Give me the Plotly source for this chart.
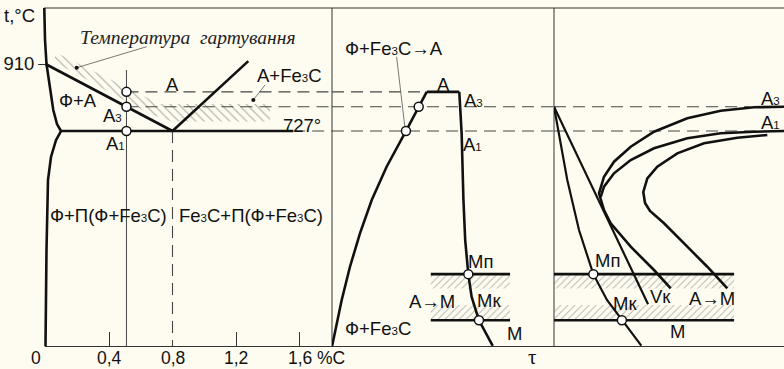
import plotly.graph_objects as go

# ================= DATA =================
# --- left panel: part of the Fe–Fe3C diagram (x: %C, y: t, °C)
gp_c = [-0.0076, -0.003, 0.0063, 0.0283, 0.049, 0.0724, 0.0976]
gp_t = [1063, 975.6, 910, 839, 784.4, 746, 727]
pq_c = [0.0976, 0.0661, 0.0346, 0.0157, 0.0063, 0.0]
pq_t = [727, 702, 656, 593, 402, 138.4]
gs_c = [0.0, 0.8]
gs_t = [910, 727]
se_c = [0.8, 1.2775]
se_t = [727, 918]
psk_c = [0.0976, 1.56]
psk_t = [727, 727]
steel_c = 0.51            # steel being quenched, %C
steel_top_t = 893.6
t_quench = 834            # quenching temperature
t_a3 = 793.3
t_a1 = 727
t_bottom = 138.4
eut_c = 0.8
hatch_c = [0.0598, 0.7213, 1.4142, 1.4142, 0.797, 0.658, 0.0598]
hatch_t = [942.8, 800.7, 800.7, 753, 753, 773.4, 914.1]
lead1_c = [0.6375, 0.1965]
lead1_t = [957.3, 899.9]
lead2_c = [1.3827, 1.309]
lead2_t = [852.6, 811.7]
c_ticks = [0.4, 1.2, 1.6]
c_labels_x = [0, 0.4, 0.8, 1.2, 1.6]
c_labels = ["0", "0,4", "0,8", "1,2", "1,6"]

# --- middle panel: heating/cooling schedule (x: τ, y: t, °C)
heat_tau = [0, 4.37, 8.1, 12.6, 17.9, 24.6, 33.3, 39.05, 42.66]
heat_t = [138.4, 265.4, 356.3, 447.6, 538.5, 629.5, 727, 793.3, 834]
hold_tau = [42.66, 57.34]
cool_tau = [57.34, 58.4, 59.2, 60.0, 61.4, 62.9, 66.2, 72.4]
cool_t = [834, 720, 540, 429, 336, 274, 210, 140]
t_mn = 336                # Mп
t_mk = 210                # Mк
band_top = [297, 336]
band_bot = [210, 252]
mid_m_tau = [44.5, 80.2]
mid_circ_tau = [33.3, 39.05, 61.4, 66.2]
mid_circ_t = [727, 793.3, 336, 210]
lead3_tau = [29.1, 32.9]
lead3_t = [930, 734]

# --- right panel: TTT (C-curves) with cooling curves (x: τ, y: t, °C)
water_tau = [0, 5.78, 10.87, 17.09, 23.04, 29.7, 37.96]
water_t = [793.3, 593.2, 456.6, 336, 265.4, 208.8, 140.6]
vk_tau = [0, 40.9]
vk_t = [793.3, 254]
c1_tau = [100, 86.96, 72.48, 57.96, 43.48, 33.35, 26.09, 21.74, 19.57, 21.74, 24.65, 33.35, 43.48, 50.74]
c1_t = [793.4, 791.7, 782.4, 761.7, 725.1, 684.1, 643.1, 602.2, 556.8, 511.2, 474.9, 411, 347.3, 297.3]
c1b_tau = [100, 86.96, 72.48, 57.96, 43.48, 33.35, 26.09, 21.74, 20.3]
c1b_t = [727, 725, 720.7, 707.1, 679.7, 647.8, 611.5, 574.9, 547.5]
c2_tau = [92.74, 79.7, 65.22, 53.61, 44.91, 40.57, 38.83, 39.57, 41.74, 44.78, 47.83, 57.96, 66.65, 75.35]
c2_t = [716.1, 708.7, 693.4, 666.1, 629.5, 597.8, 560.4, 530.3, 508.5, 490.7, 474.9, 411, 356.3, 297.3]
right_m_tau = [0, 78.3]
right_circ_tau = [17.1, 29.5]
right_circ_t = [336, 210]
right_a3_end = 85
right_a1_end = 88

# ================= FIGURE =================
BLACK = "#111111"
GREY = "#444444"
BG = "#FEFCF0"
THICK = 2.6
DASH = "12px,7px"
FS = 18.5

fig = go.Figure()


def line(x, y, xa, width=THICK, color=BLACK, dash=None):
    fig.add_trace(go.Scatter(x=x, y=y, xaxis=xa, yaxis="y", mode="lines",
                             line=dict(color=color, width=width, dash=dash),
                             hoverinfo="skip", showlegend=False))


def hatch(x, y, xa, shape, color="#555555", size=6):
    fig.add_trace(go.Scatter(x=x, y=y, xaxis=xa, yaxis="y", mode="lines",
                             line=dict(width=0), fill="toself",
                             fillcolor="rgba(0,0,0,0)",
                             fillpattern=dict(shape=shape, fgcolor=color,
                                              bgcolor="rgba(0,0,0,0)",
                                              size=size, solidity=0.18),
                             hoverinfo="skip", showlegend=False))


def circles(x, y, xa):
    fig.add_trace(go.Scatter(x=x, y=y, xaxis=xa, yaxis="y", mode="markers",
                             marker=dict(size=9, color="white",
                                         line=dict(color=BLACK, width=1.5)),
                             cliponaxis=False, hoverinfo="skip", showlegend=False))


def dot(x, y, xa):
    fig.add_trace(go.Scatter(x=[x], y=[y], xaxis=xa, yaxis="y", mode="markers",
                             marker=dict(size=4, color=BLACK),
                             hoverinfo="skip", showlegend=False))


# ---- hatched regions
hatch(hatch_c, hatch_t, "x", "\\")
for a, b in (band_top, band_bot):
    hatch([mid_m_tau[0], mid_m_tau[1], mid_m_tau[1], mid_m_tau[0]], [b, b, a, a], "x2", "/", "#6a6a6a", 5)
    hatch([right_m_tau[0], right_m_tau[1], right_m_tau[1], right_m_tau[0]], [b, b, a, a], "x3", "/", "#6a6a6a", 5)

# ---- dashed temperature levels
line([steel_c, 1.80472], [t_quench, t_quench], "x", 1.1, GREY, DASH)
line([0, heat_tau[-1]], [t_quench, t_quench], "x2", 1.1, GREY, DASH)
line([steel_c, 1.80472], [t_a3, t_a3], "x", 1.1, GREY, DASH)
line([0, 100], [t_a3, t_a3], "x2", 1.1, GREY, DASH)
line([0, right_a3_end], [t_a3, t_a3], "x3", 1.1, GREY, DASH)
line([psk_c[1], 1.80472], [t_a1, t_a1], "x", 1.1, GREY, DASH)
line([0, 100], [t_a1, t_a1], "x2", 1.1, GREY, DASH)
line([0, right_a1_end], [t_a1, t_a1], "x3", 1.1, GREY, DASH)
line([eut_c, eut_c], [t_a1, t_bottom], "x", 1.1, GREY, DASH)

# ---- thin lines
line([steel_c, steel_c], [steel_top_t, t_bottom], "x", 1.0, GREY)
line(lead1_c, lead1_t, "x", 0.8, "#555555")
line(lead2_c, lead2_t, "x", 0.8, "#555555")
line(lead3_tau, lead3_t, "x2", 0.8, "#555555")
dot(lead1_c[1], lead1_t[1], "x")
dot(lead2_c[1], lead2_t[1], "x")

# ---- left panel thick lines
line(gp_c, gp_t, "x")
line(pq_c, pq_t, "x")
line(gs_c, gs_t, "x")
line(se_c, se_t, "x")
line(psk_c, psk_t, "x")

# ---- middle panel
line(heat_tau, heat_t, "x2")
line(hold_tau, [t_quench, t_quench], "x2")
line(cool_tau, cool_t, "x2")
line(mid_m_tau, [t_mn, t_mn], "x2")
line(mid_m_tau, [t_mk, t_mk], "x2")

# ---- right panel
line(c1_tau, c1_t, "x3")
line(c1b_tau, c1b_t, "x3")
line(c2_tau, c2_t, "x3")
line(water_tau, water_t, "x3", 2.2)
line(vk_tau, vk_t, "x3", 2.2)
line(right_m_tau, [t_mn, t_mn], "x3")
line(right_m_tau, [t_mk, t_mk], "x3")

# ---- circles
circles([steel_c] * 3, [t_quench, t_a3, t_a1], "x")
circles(mid_circ_tau, mid_circ_t, "x2")
circles(right_circ_tau, right_circ_t, "x3")

# ---- labels
S3 = '<span style="font-size:11.5px">3</span>'
S1 = '<span style="font-size:11.5px">1</span>'
labels = [
    ("x", 0.803, 855.4, "А"),
    ("x", 1.54, 880, "А+Fe" + S3 + "C"),
    ("x", 0.205, 811.7, "Ф+А"),
    ("x", 0.425, 770.7, "А" + S3),
    ("x", 0.438, 694.2, "А" + S1),
    ("x", 1.616, 743.4, "727°"),
    ("x", 0.394, 497.6, "Ф+П(Ф+Fe" + S3 + "C)"),
    ("x", 1.294, 497.6, "Fe" + S3 + "C+П(Ф+Fe" + S3 + "C)"),
    ("x2", 27.9, 953, "Ф+Fe" + S3 + "C→А"),
    ("x2", 50.1, 854.6, "А"),
    ("x2", 63.7, 811.7, "А" + S3),
    ("x2", 63.4, 691.5, "А" + S1),
    ("x2", 67.1, 370, "Мп"),
    ("x2", 70.7, 265.4, "Мк"),
    ("x2", 44.9, 262.6, "А→М"),
    ("x2", 82.4, 174.4, "М"),
    ("x2", 20.9, 188, "Ф+Fe" + S3 + "C"),
    ("x3", 94.3, 816.3, "А" + S3),
    ("x3", 94.3, 750.8, "А" + S1),
    ("x3", 23.3, 374.6, "Мп"),
    ("x3", 31, 256.4, "Мк"),
    ("x3", 46.4, 274.4, "Vк"),
    ("x3", 68.5, 270, "А→М"),
    ("x3", 53.6, 178.8, "М"),
]
ann = []
for xa, x, y, txt in labels:
    ann.append(dict(xref=xa, yref="y", x=x, y=y, text=txt, showarrow=False,
                    xanchor="center", yanchor="middle"))
ann.append(dict(xref="x", yref="y", x=0.8976, y=983.8,
                text="<i>Температура&nbsp;&nbsp;гартування</i>", showarrow=False,
                font=dict(family="Liberation Serif, Times New Roman, serif", size=19.5, color="#222222"),
                xanchor="center", yanchor="middle"))
YL = 1 - 358 / 369
for x, txt in zip(c_labels_x, c_labels):
    ann.append(dict(xref="x", yref="paper", x=x, y=YL, text=txt, showarrow=False,
                    font=dict(size=17.5),
                    xanchor="center", yanchor="middle", xshift=-10 if x == 0 else 0))
ann.append(dict(xref="x", yref="paper", x=1.798, y=YL, text="%C", showarrow=False,
                font=dict(size=17.5), xanchor="center", yanchor="middle"))
ann.append(dict(xref="x2", yref="paper", x=89.95, y=1 - 357 / 369, text="τ", showarrow=False,
                font=dict(family="Liberation Serif, Times New Roman, serif", size=21),
                xanchor="center", yanchor="middle"))
ann.append(dict(xref="paper", yref="paper", x=19 / 784, y=1 - 15 / 369, text="t,°C", showarrow=False,
                xanchor="center", yanchor="middle"))

Y0 = 1 - 346.5 / 369
Y1 = 1 - 8 / 369
fr = dict(type="line", xref="paper", yref="paper", line=dict(color="#333333", width=1), layer="below")
shapes = [
    dict(fr, x0=44 / 784, x1=1, y0=Y1, y1=Y1),
    dict(fr, x0=45 / 784, x1=1, y0=Y0, y1=Y0),
    dict(fr, x0=332 / 784, x1=332 / 784, y0=Y0, y1=Y1),
    dict(fr, x0=554 / 784, x1=554 / 784, y0=Y0, y1=Y1),
]

fig.update_layout(
    width=784, height=369, margin=dict(l=0, r=0, t=0, b=0),
    paper_bgcolor=BG, plot_bgcolor=BG, showlegend=False,
    font=dict(family="Liberation Sans, Arial, sans-serif", size=FS, color=BLACK),
    xaxis=dict(domain=[40 / 784, 332 / 784], range=[-0.03465, 1.80472], showgrid=False,
               zeroline=False, showline=False, showticklabels=False, ticks="inside",
               tickvals=c_ticks, ticklen=15, tickcolor="#333333", tickwidth=1,
               anchor="y", fixedrange=True),
    xaxis2=dict(domain=[332 / 784, 554 / 784], range=[0, 100], visible=False, anchor="y"),
    xaxis3=dict(domain=[554 / 784, 1], range=[0, 100], visible=False, anchor="y"),
    yaxis=dict(domain=[Y0, Y1], range=[138.4, 1063], showgrid=False, zeroline=False,
               showline=False, tickvals=[910], ticktext=["910"], ticks="outside",
               ticklen=7, tickcolor="#333333", tickwidth=1, anchor="free",
               position=45 / 784, tickfont=dict(size=FS, color=BLACK)),
    annotations=ann, shapes=shapes,
)

fig.write_html("out.html", config={"displayModeBar": False},
               post_script="document.body.style.margin='0';document.body.style.overflow='hidden';")
